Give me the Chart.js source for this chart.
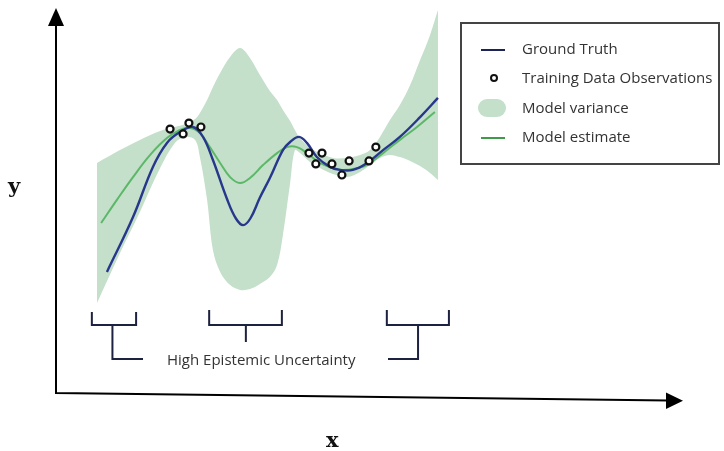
<!DOCTYPE html>
<html>
<head>
<meta charset="utf-8">
<script src="https://cdn.jsdelivr.net/npm/chart.js@4/dist/chart.umd.min.js"></script>
<style>
  html, body { margin: 0; padding: 0; background: #fff; }
  #wrap { position: relative; width: 724px; height: 451px; overflow: hidden; }
  canvas { position: absolute; left: 0; top: 0; }
  .lbl { position: absolute; font-family: "Open Sans", "Noto Sans", sans-serif; font-size: 15px; color: #333; white-space: nowrap; line-height: 1; }
  .axis { position: absolute; font-family: "DejaVu Serif", "Liberation Serif", serif; font-weight: bold; font-size: 21px; color: #111; line-height: 1; }
  #legend { position: absolute; left: 460px; top: 22px; width: 256px; height: 139px; border: 2px solid #444; box-sizing: content-box; }
  .sw { position: absolute; }
</style>
</head>
<body>
<div id="wrap">
  <canvas id="c" width="724" height="451"></canvas>
  <div class="axis" style="left:8px; top:175px;">y</div>
  <div class="axis" style="left:326px; top:429px;">x</div>
  <div class="lbl" style="left:167px; top:352px;">High Epistemic Uncertainty</div>
  <div id="legend">
    <div class="sw" style="left:19px; top:25px; width:24px; height:2px; background:#1c2456;"></div>
    <div class="lbl" style="left:60px; top:17px;">Ground Truth</div>
    <div class="sw" style="left:28px; top:50px; width:4px; height:4px; border:2px solid #111; border-radius:50%; background:#fff;"></div>
    <div class="lbl" style="left:60px; top:46px;">Training Data Observations</div>
    <div class="sw" style="left:16px; top:75px; width:28px; height:18px; border-radius:9px; background:#c4dfca;"></div>
    <div class="lbl" style="left:60px; top:76px;">Model variance</div>
    <div class="sw" style="left:19px; top:113px; width:24px; height:2px; background:#3f9a4a;"></div>
    <div class="lbl" style="left:60px; top:105px;">Model estimate</div>
  </div>
</div>
<script>
// ---- data (x and y in arbitrary units, 0..10) ----
const truthX = [0.29, 1.05, 1.63, 2.04, 2.42, 2.80, 3.09, 3.38, 3.79, 4.05, 4.26, 4.47, 4.75, 5.04, 5.42, 5.63, 5.89, 6.12, 6.41, 6.79, 7.08, 7.46, 7.87, 8.34, 8.83, 9.42, 9.94];
const truthY = [1.27, 3.10, 4.77, 5.57, 5.93, 6.10, 5.77, 5.00, 3.70, 3.05, 2.83, 3.05, 3.75, 4.40, 5.33, 5.60, 5.77, 5.57, 5.10, 4.77, 4.67, 4.67, 4.90, 5.33, 5.77, 6.43, 7.07];

const estimateX = [0.12, 0.58, 1.05, 1.55, 2.04, 2.42, 2.71, 3.00, 3.29, 3.59, 3.88, 4.17, 4.46, 4.84, 5.25, 5.54, 5.83, 6.12, 6.50, 6.88, 7.17, 7.58, 7.87, 8.34, 8.83, 9.33, 9.85];
const estimateY = [2.90, 3.67, 4.43, 5.17, 5.73, 6.00, 6.07, 5.90, 5.43, 4.90, 4.43, 4.23, 4.40, 4.83, 5.23, 5.43, 5.43, 5.23, 4.90, 4.73, 4.67, 4.73, 4.83, 5.23, 5.67, 6.10, 6.60];

const bandX     = [0.00, 0.67, 1.25, 1.84, 2.27, 2.57, 2.86, 3.00, 3.21, 3.38, 3.59, 3.88, 4.17, 4.46, 4.75, 5.04, 5.25, 5.42, 5.63, 5.77, 5.92, 6.21, 6.50, 6.88, 7.29, 7.67, 7.96, 8.25, 8.54, 8.83, 9.13, 9.42, 9.71, 9.94];
const bandUpper = [4.90, 5.33, 5.67, 5.97, 6.10, 6.20, 6.37, 6.57, 7.00, 7.43, 7.90, 8.43, 8.73, 8.40, 7.83, 7.30, 7.00, 6.67, 6.30, 6.00, 5.73, 5.40, 5.23, 5.07, 5.07, 5.17, 5.33, 5.77, 6.33, 6.83, 7.50, 8.33, 9.17, 10.0];
const bandLower = [0.23, 1.90, 3.27, 4.73, 5.57, 5.77, 5.67, 5.10, 3.67, 2.00, 1.27, 0.83, 0.67, 0.70, 0.87, 1.10, 1.50, 2.50, 4.23, 5.33, 5.23, 4.93, 4.73, 4.53, 4.43, 4.60, 4.83, 5.07, 5.17, 5.10, 4.97, 4.80, 4.57, 4.33];

const obsX = [2.13, 2.51, 2.68, 3.03, 6.18, 6.38, 6.56, 6.85, 7.14, 7.35, 7.93, 8.13];
const obsY = [6.03, 5.87, 6.23, 6.10, 5.23, 4.87, 5.23, 4.87, 4.50, 4.97, 4.97, 5.43];

// x-ranges marked as high epistemic uncertainty: [start, end, stemAt]
const uncertainRanges = [[-0.15, 1.14, 0.45], [3.27, 5.39, 4.34], [8.45, 10.26, 9.36]];

const pts = (xs, ys) => xs.map((x, i) => ({x: x, y: ys[i]}));

const decor = {
  id: 'decor',
  afterDraw(chart) {
    const ctx = chart.ctx;
    const xs = chart.scales.x;
    ctx.save();
    // axes
    ctx.strokeStyle = '#000'; ctx.fillStyle = '#000'; ctx.lineWidth = 2;
    ctx.beginPath();
    ctx.moveTo(56, 24); ctx.lineTo(56, 393); ctx.lineTo(668, 400.5);
    ctx.stroke();
    ctx.beginPath(); ctx.moveTo(56, 8); ctx.lineTo(48, 26); ctx.lineTo(64, 26); ctx.closePath(); ctx.fill();
    ctx.beginPath(); ctx.moveTo(683, 400.7); ctx.lineTo(666, 392.5); ctx.lineTo(666, 409); ctx.closePath(); ctx.fill();
    // brackets
    ctx.strokeStyle = '#1d2240'; ctx.lineWidth = 2; ctx.lineCap = 'butt'; ctx.lineJoin = 'miter';
    uncertainRanges.forEach((r, i) => {
      const a = xs.getPixelForValue(r[0]);
      const b = xs.getPixelForValue(r[1]);
      const s = xs.getPixelForValue(r[2]);
      const top = i === 0 ? 312 : 310;
      ctx.beginPath();
      ctx.moveTo(a, top); ctx.lineTo(a, 325); ctx.lineTo(b, 325); ctx.lineTo(b, top);
      ctx.stroke();
      ctx.beginPath();
      ctx.moveTo(s, 325);
      if (i === 0) { ctx.lineTo(s, 359); ctx.lineTo(143, 359); }
      else if (i === 2) { ctx.lineTo(s, 359); ctx.lineTo(388, 359); }
      else { ctx.lineTo(s, 342); }
      ctx.stroke();
    });
    ctx.restore();
  }
};

new Chart(document.getElementById('c'), {
  type: 'scatter',
  data: {
    datasets: [
      {
        label: 'Training Data Observations',
        data: pts(obsX, obsY),
        showLine: false,
        pointStyle: 'circle',
        pointRadius: 3.5,
        pointBorderWidth: 2.2,
        borderColor: '#111',
        backgroundColor: '#fff',
        order: 0, clip: false
      },
      {
        label: 'Ground Truth',
        data: pts(truthX, truthY),
        showLine: true,
        borderColor: '#27378c',
        borderWidth: 2.4,
        pointRadius: 0,
        tension: 0.4,
        fill: false,
        order: 1, clip: false
      },
      {
        label: 'Model estimate',
        data: pts(estimateX, estimateY),
        showLine: true,
        borderColor: '#5cb868',
        borderWidth: 2,
        pointRadius: 0,
        tension: 0.4,
        fill: false,
        order: 2, clip: false
      },
      {
        label: 'Model variance',
        data: pts(bandX, bandUpper),
        showLine: true,
        borderWidth: 0,
        borderColor: 'rgba(0,0,0,0)',
        backgroundColor: '#c4dfca',
        pointRadius: 0,
        tension: 0.35,
        fill: '+1',
        order: 3, clip: false
      },
      {
        label: 'variance lower',
        data: pts(bandX, bandLower),
        showLine: true,
        borderWidth: 0,
        borderColor: 'rgba(0,0,0,0)',
        backgroundColor: '#c4dfca',
        pointRadius: 0,
        tension: 0.35,
        fill: false,
        order: 4, clip: false
      }
    ]
  },
  options: {
    responsive: false,
    devicePixelRatio: 1,
    animation: false,
    layout: { padding: { left: 97, right: 284, top: 10, bottom: 141 } },
    scales: {
      x: { type: 'linear', min: 0, max: 10, display: false },
      y: { type: 'linear', min: 0, max: 10, display: false }
    },
    plugins: {
      legend: { display: false },
      tooltip: { enabled: false }
    }
  },
  plugins: [decor]
});
</script>
</body>
</html>
